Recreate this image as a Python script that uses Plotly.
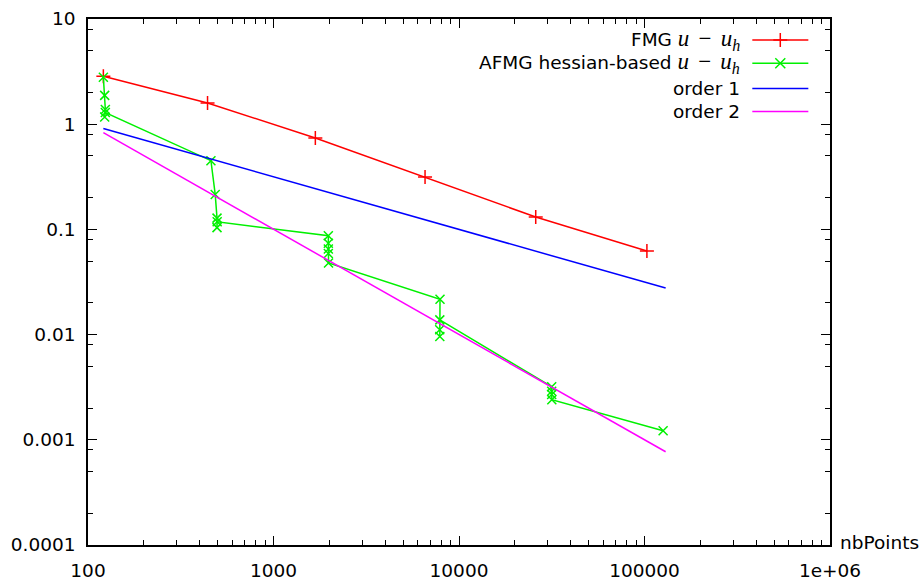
import plotly.graph_objects as go

# ---- data ----
fmg_n = [121, 441, 1681, 6561, 25921, 103041]
fmg_err = [2.85, 1.59, 0.74, 0.315, 0.131, 0.0624]

afmg_n = [121, 123, 124, 123, 124,
          460, 485, 496, 496, 497,
          1975, 1975, 1975, 1975, 1980,
          7900, 7880, 7870, 7880,
          31600, 31600, 31600, 31650,
          126000]
afmg_err = [2.80, 1.88, 1.38, 1.17, 1.29,
            0.45, 0.215, 0.128, 0.104, 0.118,
            0.087, 0.074, 0.065, 0.059, 0.048,
            0.0217, 0.0096, 0.0111, 0.0138,
            0.0032, 0.0029, 0.0027, 0.0024,
            0.00122]

order1_n = [121, 130000]
order1_err = [0.91, 0.0277]
order2_n = [121, 130000]
order2_err = [0.83, 0.00077]

legend_names = ["FMG", "AFMG hessian-based", "order 1", "order 2"]
x_tick_vals = [100, 1000, 10000, 100000, 1000000]
x_tick_text = ["100", "1000", "10000", "100000", "1e+06"]
y_tick_vals = [0.0001, 0.001, 0.01, 0.1, 1, 10]
y_tick_text = ["0.0001", "0.001", "0.01", "0.1", "1", "10"]

RED, GREEN, BLUE, MAG = "#ff0000", "#00f000", "#0000ff", "#ff00ff"
FONT = "DejaVu Sans"
FS = 18.5

fig = go.Figure()
fig.add_trace(go.Scatter(x=fmg_n, y=fmg_err, mode="lines+markers",
                         line=dict(color=RED, width=1.5),
                         marker=dict(symbol="cross-thin", size=10, color=RED,
                                     line=dict(color=RED, width=1.5)),
                         showlegend=False))
fig.add_trace(go.Scatter(x=afmg_n, y=afmg_err, mode="lines+markers",
                         line=dict(color=GREEN, width=1.5),
                         marker=dict(symbol="x-thin", size=9, color=GREEN,
                                     line=dict(color=GREEN, width=1.5)),
                         showlegend=False))
fig.add_trace(go.Scatter(x=order1_n, y=order1_err, mode="lines",
                         line=dict(color=BLUE, width=1.5), showlegend=False))
fig.add_trace(go.Scatter(x=order2_n, y=order2_err, mode="lines",
                         line=dict(color=MAG, width=1.5), showlegend=False))

# ---- manual legend (text left, sample right, gnuplot style) ----
rows = [0.960, 0.916, 0.868, 0.824]
colors = [RED, GREEN, BLUE, MAG]
symbols = ["cross-thin", "x-thin", None, None]
x0, x1, xm = 0.8953, 0.9708, 0.933
math = ('<span style="font-family:Liberation Serif;font-size:23px">'
        '<i>u</i>\u2009\u2009−\u2009\u2009<i>u</i><sub><i>h</i></sub></span>')
for i in range(4):
    fig.add_trace(go.Scatter(x=[x0, x1], y=[rows[i], rows[i]], mode="lines",
                             line=dict(color=colors[i], width=1.5),
                             xaxis="x2", yaxis="y2", showlegend=False,
                             hoverinfo="skip"))
    if symbols[i]:
        fig.add_trace(go.Scatter(x=[xm], y=[rows[i]], mode="markers",
                                 marker=dict(symbol=symbols[i], size=10,
                                             color=colors[i],
                                             line=dict(color=colors[i], width=1.5)),
                                 xaxis="x2", yaxis="y2", showlegend=False,
                                 hoverinfo="skip"))
    txt = legend_names[i] + (" " + math if i < 2 else "")
    fig.add_annotation(x=0.881, y=rows[i], xref="x2", yref="y2", text=txt,
                       showarrow=False, xanchor="right", yanchor="middle",
                       font=dict(family=FONT, size=FS, color="black"))

fig.add_annotation(x=1.011, y=0.004, xref="paper", yref="paper", text="nbPoints",
                   showarrow=False, xanchor="left", yanchor="middle",
                   font=dict(family=FONT, size=FS, color="black"))

x_minor = [m * 10 ** d for d in range(2, 6) for m in range(2, 10)]
y_minor = [m * 10.0 ** d for d in range(-4, 1) for m in (2, 5, 8)]

axis_common = dict(showline=True, linecolor="black", linewidth=1.5, mirror="allticks",
                   ticks="inside", ticklen=9, tickwidth=1.2, tickcolor="black",
                   showgrid=False, zeroline=False, tickmode="array",
                   tickfont=dict(family=FONT, size=FS, color="black"))

fig.update_layout(
    width=922, height=581,
    margin=dict(l=88, r=92, t=19, b=36, autoexpand=False),
    paper_bgcolor="white", plot_bgcolor="white",
    xaxis=dict(type="log", range=[2, 6], tickvals=x_tick_vals, ticktext=x_tick_text,
               ticklabelstandoff=8, automargin=False,
               minor=dict(tickmode="array", tickvals=x_minor, ticks="inside", ticklen=5,
                          tickwidth=1.2, tickcolor="black", showgrid=False),
               **axis_common),
    yaxis=dict(type="log", range=[-4, 1], tickvals=y_tick_vals, ticktext=y_tick_text,
               ticklabelstandoff=7, automargin=False,
               minor=dict(tickmode="array", tickvals=y_minor, ticks="inside", ticklen=5,
                          tickwidth=1.2, tickcolor="black", showgrid=False),
               **axis_common),
    xaxis2=dict(overlaying="x", range=[0, 1], visible=False, fixedrange=True),
    yaxis2=dict(overlaying="y", range=[0, 1], visible=False, fixedrange=True),
)

fig.write_html("out.html", config={"displayModeBar": False},
               post_script="document.body.style.margin='0px';document.body.style.overflow='hidden';")
